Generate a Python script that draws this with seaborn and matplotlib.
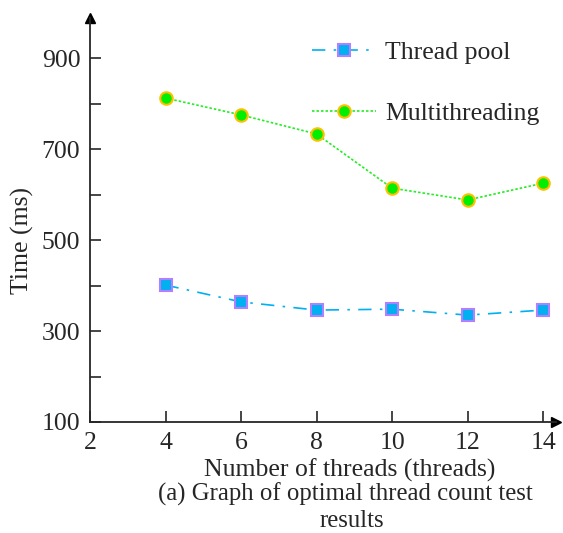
import numpy as np
import pandas as pd
import matplotlib
matplotlib.use("Agg")
import matplotlib.pyplot as plt
import seaborn as sns

threads = [4, 6, 8, 10, 12, 14]
thread_pool = [401, 364, 346, 348, 335, 346]
multithreading = [812, 775, 733, 614, 588, 625]
series_names = ["Thread pool", "Multithreading"]
y_major = [100, 300, 500, 700, 900]
x_ticks = [2, 4, 6, 8, 10, 12, 14]

sns.set_style("ticks")
plt.rcParams["font.family"] = ["Liberation Serif", "DejaVu Serif"]
FS = 18.5

df = pd.DataFrame({
    "threads": threads * 2,
    "time": thread_pool + multithreading,
    "series": [series_names[0]] * len(threads) + [series_names[1]] * len(threads),
})

fig = plt.figure(figsize=(5.63, 5.33), dpi=100)
ax = fig.add_axes([90 / 563, 111 / 533, 466 / 563, 404 / 533])

styles = {
    "Thread pool": dict(color="#00B0F0", ls=(0, (8, 5, 1.5, 5)), marker="s",
                        mfc="#00B0F0", mec="#B080FF", ms=9, mew=1.5, lw=1.2),
    "Multithreading": dict(color="#22EE22", ls=(0, (1.5, 1.2)), marker="o",
                           mfc="#00EE00", mec="#FFC000", ms=9, mew=1.5, lw=1.2),
}

for name in series_names:
    sub = df[df["series"] == name]
    st = styles[name]
    sns.lineplot(data=sub, x="threads", y="time", ax=ax, color=st["color"],
                 linestyle=st["ls"], linewidth=st["lw"], marker=st["marker"],
                 markerfacecolor=st["mfc"], markeredgecolor=st["mec"],
                 markersize=st["ms"], markeredgewidth=st["mew"], label=name)

ax.set_xlim(2, 14.34)
ax.set_ylim(100, 988)
ax.set_xticks(x_ticks)
ax.set_yticks(y_major)
ax.set_yticks([200, 400, 600, 800], minor=True)
ax.tick_params(axis="both", which="both", direction="in", length=8, width=1.2,
               labelsize=FS, pad=7)
for s in ["top", "right"]:
    ax.spines[s].set_visible(False)
for s in ["left", "bottom"]:
    ax.spines[s].set_linewidth(1.3)

# arrow heads on both axes
ax.plot(1, 0, ">k", ms=7, transform=ax.transAxes, clip_on=False)
ax.plot(0, 1, "^k", ms=7, transform=ax.transAxes, clip_on=False)

ax.set_xlabel("")
ax.set_ylabel("")
fig.text(350 / 563, 1 - 470 / 533, "Number of threads (threads)",
         ha="center", va="center", fontsize=FS)
fig.text(22 / 563, 1 - 240 / 533, "Time (ms)", rotation=90,
         ha="center", va="center", fontsize=FS)

leg = ax.legend(loc="upper left", bbox_to_anchor=(0.476, 0.943), frameon=False,
                fontsize=FS, handlelength=2.5, labelspacing=1.48, handletextpad=0.35,
                borderaxespad=0, borderpad=0)

fig.text(345 / 563, 1 - 494 / 533, "(a) Graph of optimal thread count test",
         ha="center", va="center", fontsize=17.8)
fig.text(352 / 563, 1 - 521 / 533, "results", ha="center", va="center", fontsize=17.8)

fig.savefig("out.png", dpi=100)
